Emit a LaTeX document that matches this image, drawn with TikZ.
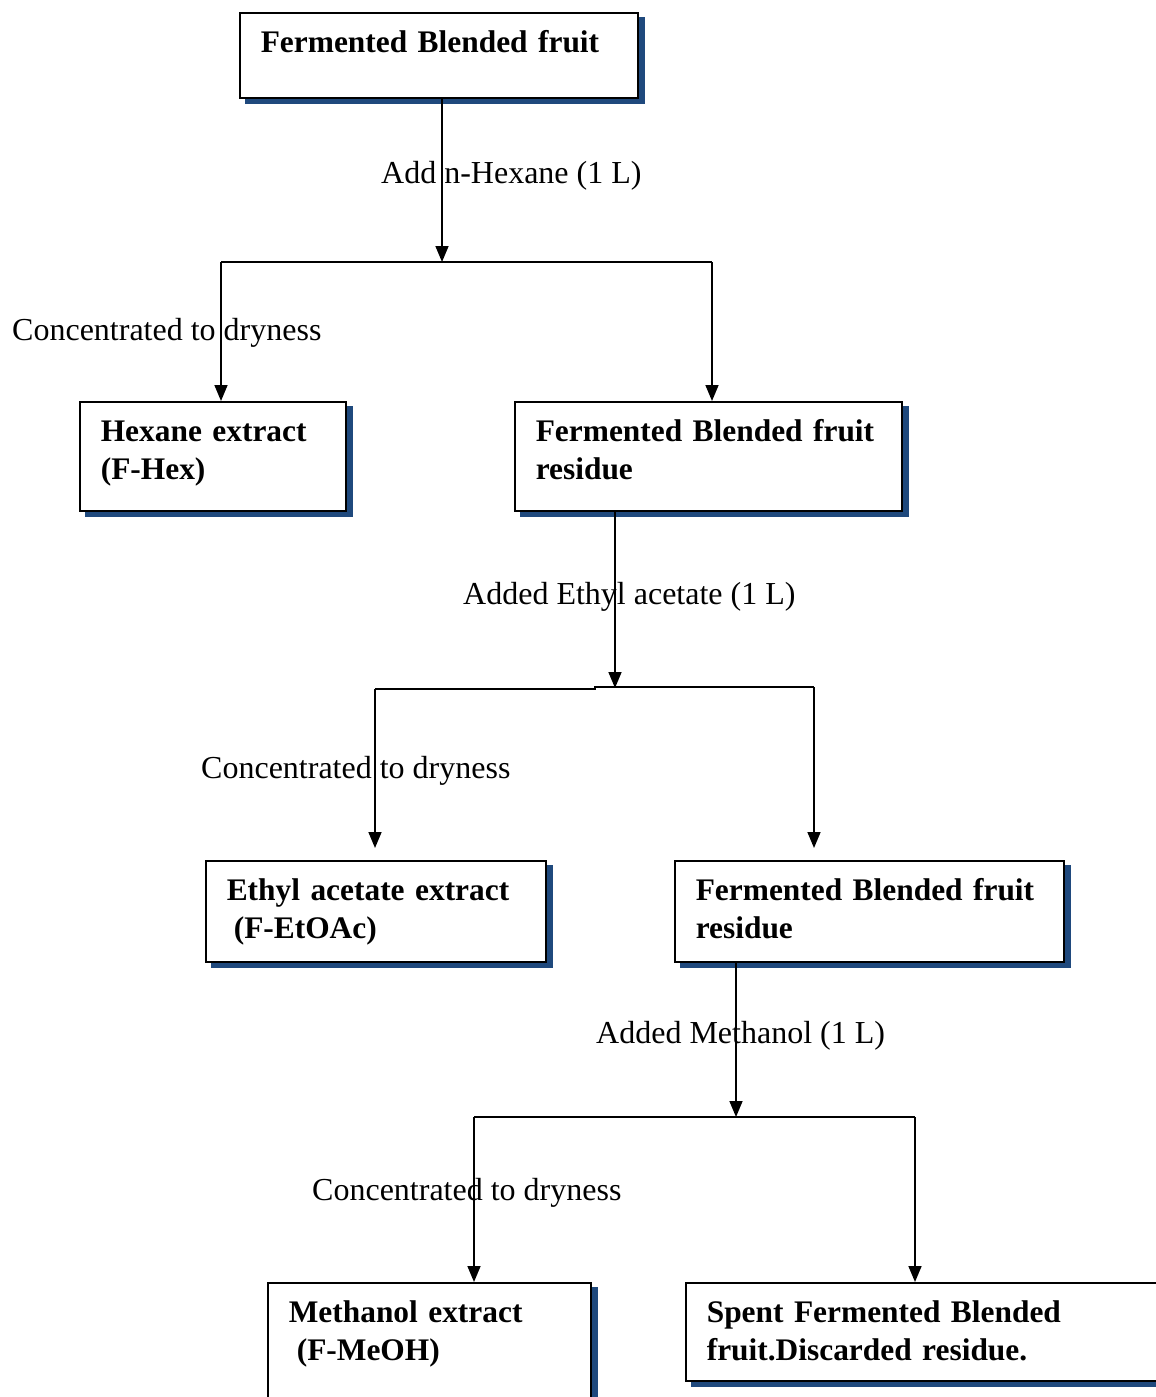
\documentclass[tikz,border=0pt]{standalone}
\usepackage{fontspec}
\setmainfont{Liberation Serif}
\usepackage{tikz}
\definecolor{Shdw}{RGB}{31,73,125}
\usetikzlibrary{shadows,arrows.meta}
\newcommand{\boxfont}{\fontsize{31.4}{38}\selectfont\bfseries}
\newcommand{\lblfont}{\fontsize{32}{38}\selectfont}

\tikzset{
  fbox/.style={draw=black, line width=1.6pt, fill=white, rectangle,
               anchor=north west, inner xsep=21pt, inner ysep=0pt,
               align=left, text height=40pt, font=\boxfont,
               copy shadow={fill=Shdw, draw=Shdw, shadow xshift=6pt,
                            shadow yshift=-5pt}},
  lbl/.style={anchor=base west, inner sep=0pt, font=\lblfont},
  ln/.style={line width=1.6pt},
  arr/.style={ln, -{Triangle[length=16pt,width=13pt]}}
}

\begin{document}
\begin{tikzpicture}[x=1pt,y=-1pt]
    \useasboundingbox (0,0) rectangle (1156,1397);
    \clip (0,0) rectangle (1156,1397);
    % boxes
    \node[fbox, text width=356pt, text depth=45pt] (fbf) at (239,12)
        {Fermented Blended fruit};
    \node[fbox, text width=224pt, text depth=69pt] (hex) at (79,401)
        {Hexane extract\\(F-Hex)};
    \node[fbox, text width=345pt, text depth=69pt] (res1) at (514,401)
        {Fermented Blended fruit\\residue};
    \node[fbox, text width=298pt, text depth=61pt] (eth) at (205,860)
        {Ethyl acetate extract\\\hspace{7pt}(F-EtOAc)};
    \node[fbox, text width=347pt, text depth=61pt] (res2) at (674,860)
        {Fermented Blended fruit\\residue};
    \node[fbox, text width=281pt, text depth=85pt] (meoh) at (267,1282)
        {Methanol extract\\\hspace{8pt}(F-MeOH)};
    \node[fbox, text width=440pt, text depth=58pt] (spent) at (685,1282)
        {Spent Fermented Blended\\fruit.Discarded residue.};
    % hexane step
    \coordinate (j1) at (442,262);
    \coordinate (b1l) at (221,262);
    \coordinate (b1r) at (712,262);
    \draw[arr] (fbf.south -| j1) -- (j1);
    \draw[ln] (b1l) -- (b1r);
    \draw[arr] (b1l) -- (b1l |- hex.north);
    \draw[arr] (b1r) -- (b1r |- res1.north);
    \node[lbl] (addhex) at (381,183) {Add n-Hexane (1 L)};
    \node[lbl] (conc1) at (12,340) {Concentrated to dryness};
    % ethyl acetate step
    \coordinate (j2) at (615,688);
    \coordinate (b2l) at (375,689);
    \coordinate (b2r) at (814,687);
    \draw[arr] (res1.south -| j2) -- (j2);
    \draw[ln] (b2l) -- (595,689) -- (595,687) -- (b2r);
    \draw[arr, shorten >=12pt] (b2l) -- (b2l |- eth.north);
    \draw[arr, shorten >=12pt] (b2r) -- (b2r |- res2.north);
    \node[lbl] (addeth) at (463,604) {Added Ethyl acetate (1 L)};
    \node[lbl] (conc2) at (201,778) {Concentrated to dryness};
    % methanol step
    \coordinate (j3) at (736,1117);
    \coordinate (b3l) at (474,1117);
    \coordinate (b3r) at (915,1117);
    \draw[arr] (res2.south -| j3) -- (j3);
    \draw[ln] (b3l) -- (b3r);
    \draw[arr] (b3l) -- (b3l |- meoh.north);
    \draw[arr] (b3r) -- (b3r |- spent.north);
    \node[lbl] (addmeth) at (596,1043) {Added Methanol (1 L)};
    \node[lbl] (conc3) at (312,1200) {Concentrated to dryness};
\end{tikzpicture}
\end{document}
